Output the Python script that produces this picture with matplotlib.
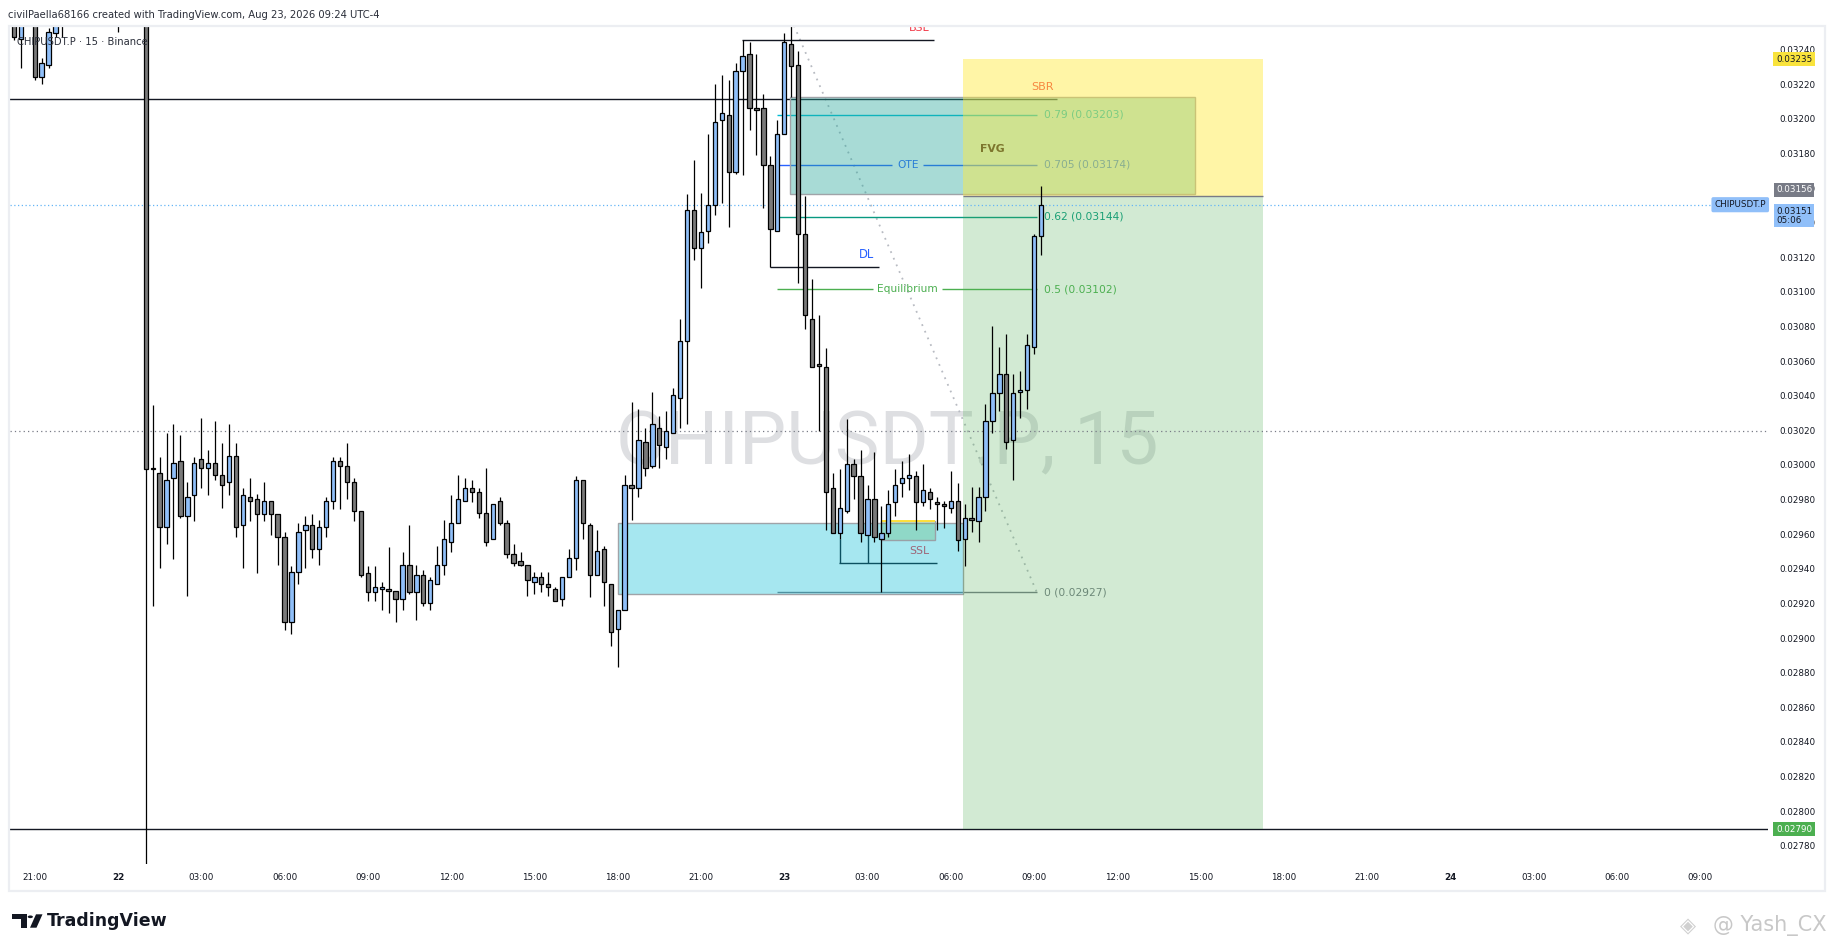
import matplotlib
matplotlib.use("Agg")
import matplotlib.pyplot as plt
from matplotlib.patches import Rectangle, Circle, Polygon
from matplotlib.transforms import blended_transform_factory

# --- Velas de 15 min. Indice 0 = dia 22, 00:00 (una vela = 15 min) ---
first_idx = -15
opens = [
    0.03258, 0.03247, 0.03257, 0.03260, 0.03225, 0.03232, 0.03250, 0.03262, 0.03266, 0.03275,
    0.03270, 0.03281, 0.03276, 0.03283, 0.03274, 0.03268, 0.03272, 0.03278, 0.03271, 0.03266,
    0.02999, 0.02996, 0.02965, 0.02993, 0.03003, 0.02971, 0.02983, 0.03004, 0.02999, 0.03002,
    0.02995, 0.02991, 0.03006, 0.02966, 0.02982, 0.02981, 0.02972, 0.02980, 0.02972, 0.02959,
    0.02910, 0.02939, 0.02963, 0.02966, 0.02952, 0.02965, 0.02980, 0.03003, 0.03000, 0.02991,
    0.02974, 0.02938, 0.02927, 0.02929, 0.02929, 0.02928, 0.02923, 0.02943, 0.02927, 0.02937,
    0.02921, 0.02932, 0.02943, 0.02956, 0.02967, 0.02980, 0.02987, 0.02985, 0.02973, 0.02958,
    0.02980, 0.02967, 0.02949, 0.02945, 0.02943, 0.02933, 0.02936, 0.02932, 0.02929, 0.02923,
    0.02936, 0.02947, 0.02992, 0.02966, 0.02937, 0.02952, 0.02932, 0.02906, 0.02917, 0.02989,
    0.02987, 0.03014, 0.03000, 0.03022, 0.03011, 0.03019, 0.03039, 0.03072, 0.03148, 0.03126,
    0.03136, 0.03151, 0.03200, 0.03203, 0.03170, 0.03228, 0.03238, 0.03207, 0.03207, 0.03174,
    0.03136, 0.03192, 0.03244, 0.03232, 0.03134, 0.03085, 0.03059, 0.03057, 0.02987, 0.02961,
    0.02974, 0.03001, 0.02994, 0.02960, 0.02981, 0.02958, 0.02961, 0.02979, 0.02990, 0.02993,
    0.02994, 0.02979, 0.02985, 0.02979, 0.02978, 0.02976, 0.02980, 0.02958, 0.02970, 0.02968,
    0.02982, 0.03026, 0.03042, 0.03053, 0.03015, 0.03043, 0.03044, 0.03069, 0.03133,
]
highs = [
    0.03262, 0.03262, 0.03265, 0.03264, 0.03236, 0.03253, 0.03268, 0.03270, 0.03282, 0.03284,
    0.03290, 0.03288, 0.03292, 0.03288, 0.03280, 0.03285, 0.03286, 0.03284, 0.03279, 0.03275,
    0.03035, 0.03005, 0.03019, 0.03024, 0.03018, 0.02991, 0.03005, 0.03028, 0.03009, 0.03026,
    0.03013, 0.03024, 0.03013, 0.02987, 0.02993, 0.02984, 0.02991, 0.02980, 0.02972, 0.02962,
    0.02942, 0.02967, 0.02971, 0.02972, 0.02969, 0.02982, 0.03005, 0.03005, 0.03013, 0.02993,
    0.02974, 0.02942, 0.02942, 0.02933, 0.02953, 0.02928, 0.02950, 0.02966, 0.02943, 0.02940,
    0.02936, 0.02954, 0.02969, 0.02983, 0.02995, 0.02993, 0.02992, 0.02987, 0.02999, 0.02978,
    0.02982, 0.02969, 0.02955, 0.02950, 0.02943, 0.02939, 0.02939, 0.02939, 0.02930, 0.02936,
    0.02952, 0.02994, 0.02992, 0.02967, 0.02963, 0.02954, 0.02932, 0.02917, 0.02995, 0.03037,
    0.03033, 0.03022, 0.03043, 0.03029, 0.03032, 0.03045, 0.03085, 0.03157, 0.03177, 0.03158,
    0.03192, 0.03221, 0.03226, 0.03223, 0.03233, 0.03246, 0.03245, 0.03238, 0.03215, 0.03179,
    0.03200, 0.03250, 0.03254, 0.03240, 0.03156, 0.03108, 0.03087, 0.03068, 0.02996, 0.02998,
    0.03027, 0.03004, 0.03009, 0.02989, 0.03008, 0.02977, 0.02986, 0.02998, 0.03003, 0.03007,
    0.02997, 0.03001, 0.02987, 0.02982, 0.02980, 0.02997, 0.02990, 0.02978, 0.02988, 0.02988,
    0.03036, 0.03081, 0.03069, 0.03076, 0.03053, 0.03055, 0.03076, 0.03134, 0.03162,
]
lows = [
    0.03246, 0.03230, 0.03255, 0.03223, 0.03221, 0.03230, 0.03248, 0.03248, 0.03262, 0.03266,
    0.03268, 0.03270, 0.03272, 0.03268, 0.03262, 0.03251, 0.03265, 0.03264, 0.03260, 0.02765,
    0.02919, 0.02941, 0.02955, 0.02946, 0.02970, 0.02925, 0.02968, 0.02987, 0.02983, 0.02992,
    0.02976, 0.02983, 0.02959, 0.02941, 0.02968, 0.02938, 0.02968, 0.02960, 0.02943, 0.02905,
    0.02903, 0.02932, 0.02941, 0.02947, 0.02943, 0.02959, 0.02975, 0.02975, 0.02981, 0.02968,
    0.02936, 0.02922, 0.02922, 0.02917, 0.02915, 0.02910, 0.02917, 0.02926, 0.02911, 0.02919,
    0.02917, 0.02932, 0.02937, 0.02950, 0.02967, 0.02980, 0.02979, 0.02970, 0.02954, 0.02958,
    0.02966, 0.02947, 0.02942, 0.02942, 0.02925, 0.02926, 0.02927, 0.02925, 0.02922, 0.02919,
    0.02936, 0.02940, 0.02958, 0.02924, 0.02937, 0.02919, 0.02896, 0.02884, 0.02917, 0.02969,
    0.02982, 0.02994, 0.02999, 0.02999, 0.03004, 0.03019, 0.03022, 0.03024, 0.03119, 0.03103,
    0.03129, 0.03145, 0.03152, 0.03138, 0.03169, 0.03168, 0.03194, 0.03180, 0.03149, 0.03115,
    0.03163, 0.03192, 0.03213, 0.03106, 0.03079, 0.03057, 0.03020, 0.02963, 0.02961, 0.02958,
    0.02973, 0.02981, 0.02956, 0.02960, 0.02956, 0.02927, 0.02959, 0.02971, 0.02982, 0.02986,
    0.02963, 0.02977, 0.02975, 0.02963, 0.02964, 0.02973, 0.02951, 0.02942, 0.02962, 0.02956,
    0.02974, 0.03019, 0.03032, 0.03010, 0.02992, 0.03028, 0.03033, 0.03065, 0.03122,
]
closes = [
    0.03248, 0.03257, 0.03261, 0.03225, 0.03233, 0.03251, 0.03262, 0.03266, 0.03275, 0.03270,
    0.03281, 0.03276, 0.03283, 0.03274, 0.03268, 0.03272, 0.03278, 0.03271, 0.03266, 0.02998,
    0.02998, 0.02965, 0.02992, 0.03002, 0.02971, 0.02982, 0.03002, 0.02999, 0.03002, 0.02995,
    0.02989, 0.03006, 0.02965, 0.02983, 0.02980, 0.02972, 0.02980, 0.02972, 0.02959, 0.02910,
    0.02939, 0.02962, 0.02966, 0.02952, 0.02965, 0.02980, 0.03003, 0.03000, 0.02991, 0.02974,
    0.02937, 0.02927, 0.02930, 0.02930, 0.02928, 0.02923, 0.02943, 0.02927, 0.02937, 0.02921,
    0.02934, 0.02943, 0.02958, 0.02967, 0.02981, 0.02987, 0.02985, 0.02973, 0.02956, 0.02978,
    0.02967, 0.02949, 0.02944, 0.02943, 0.02934, 0.02936, 0.02932, 0.02930, 0.02922, 0.02936,
    0.02947, 0.02992, 0.02967, 0.02937, 0.02951, 0.02933, 0.02904, 0.02917, 0.02989, 0.02987,
    0.03015, 0.02999, 0.03024, 0.03012, 0.03020, 0.03041, 0.03072, 0.03148, 0.03126, 0.03135,
    0.03151, 0.03199, 0.03204, 0.03170, 0.03228, 0.03237, 0.03207, 0.03206, 0.03174, 0.03137,
    0.03192, 0.03245, 0.03231, 0.03134, 0.03087, 0.03057, 0.03058, 0.02985, 0.02961, 0.02976,
    0.03001, 0.02994, 0.02961, 0.02981, 0.02959, 0.02961, 0.02978, 0.02989, 0.02993, 0.02995,
    0.02979, 0.02986, 0.02981, 0.02978, 0.02977, 0.02980, 0.02957, 0.02970, 0.02969, 0.02982,
    0.03026, 0.03042, 0.03053, 0.03014, 0.03042, 0.03044, 0.03070, 0.03133, 0.03151,
]

# eje de tiempo: una etiqueta cada 3 h (12 velas), desde 21:00 del dia 21
time_labels = ["21:00", "22", "03:00", "06:00", "09:00", "12:00", "15:00", "18:00",
               "21:00", "23", "03:00", "06:00", "09:00", "12:00", "15:00", "18:00",
               "21:00", "24", "03:00", "06:00", "09:00"]
time_first = -12
price_ticks = [round(0.02780 + 0.0002 * k, 5) for k in range(24)]

# retroceso de Fibonacci
fib_levels = [0, 0.5, 0.62, 0.705, 0.79]
fib_prices = [0.02927, 0.03102, 0.03144, 0.03174, 0.03203]
fib_names = {0.5: "Equilibrium", 0.705: "OTE"}
fib_start, fib_end = 95.0, 132.4
fib_top = 0.03277

# zonas y niveles dibujados
last_price = 0.03151
prev_close = 0.03020
range_high_line = 0.03212
target_line = 0.02790
bsl_price = 0.03246
dl_price = 0.03115
ssl_price = 0.02944
fvg_zone = (96.9, 155.2, 0.03157, 0.03213)
demand_zone = (72.05, 121.8, 0.02926, 0.02967)
ssl_zone = (110.0, 117.7, 0.02957, 0.02968)
pos_x = (121.8, 165.0)
pos_entry, pos_stop, pos_target = 0.03156, 0.03235, 0.02790

W, H = 1835, 951


def fx(px):
    return px / W


def fy(py):
    return 1 - py / H


fig = plt.figure(figsize=(W / 100, H / 100), dpi=100)
ax = fig.add_axes([fx(9.5), fy(864.3), fx(1768) - fx(9.5), fy(27) - fy(864.3)])
ax.set_xlim(-15.63, 237.75)
ax.set_ylim(0.027698, 0.032537)
ax.axis("off")

TXT = "#131722"
RED = "#f23645"
BLUE = "#2962ff"

# marca de agua
ax.text(110.9, 0.03013, "CHIPUSDT.P, 15", fontsize=54, family="Roboto",
        color="#dedfe2", ha="center", va="center", zorder=0.5)

# --- Fibonacci ---
ax.plot([fib_start, fib_end], [fib_top, fib_prices[0]], color="#b8bbc2",
        ls=(0, (1, 3)), lw=1.3, zorder=1)
fib_colors = ["#787b86", "#4caf50", "#089981", "#2962ff", "#00bcd4"]
gaps = {"Equilibrium": 5.0, "OTE": 2.2}
mid = 113.8
for lvl, pr, col in zip(fib_levels, fib_prices, fib_colors):
    name = fib_names.get(lvl)
    if name:
        g = gaps[name]
        ax.hlines(pr, fib_start, mid - g, color=col, lw=1, zorder=1)
        ax.hlines(pr, mid + g, fib_end, color=col, lw=1, zorder=1)
        ax.text(mid, pr, name, color=col, fontsize=7.7, ha="center", va="center", zorder=1)
    else:
        ax.hlines(pr, fib_start, fib_end, color=col, lw=1, zorder=1)
    ax.text(133.4, pr, f"{lvl} ({pr:.5f})", color=col, fontsize=7.7,
            ha="left", va="center", zorder=1)

# lineas horizontales
ax.hlines(range_high_line, -16, 135.3, color=TXT, lw=1, zorder=1.5)
ax.axhline(target_line, color=TXT, lw=1, zorder=1.5)
ax.hlines(bsl_price, 89.9, 117.6, color=TXT, lw=1, zorder=1.5)
ax.text(115.4, 0.032514, "BSL", color=RED, fontsize=8, ha="center", va="baseline",
        zorder=1.5, clip_on=True)
ax.hlines(dl_price, 93.9, 109.7, color=TXT, lw=1, zorder=1.5)
ax.text(107.8, 0.03122, "DL", color=BLUE, fontsize=8.3, ha="center", va="center", zorder=1.5)
ax.hlines(ssl_price, 103.9, 118.0, color=TXT, lw=1, zorder=1.5)
ax.vlines([104, 108], [lows[104 - first_idx], lows[108 - first_idx]], ssl_price,
          color=TXT, lw=1, zorder=1.5)
ax.text(115.5, 0.02951, "SSL", color=RED, fontsize=7.8, ha="center", va="center", zorder=1.5)

# zonas (rectangulos)
x0, x1, y0, y1 = demand_zone
ax.add_patch(Rectangle((x0, y0), x1 - x0, y1 - y0, facecolor=(0, 188 / 255, 212 / 255, 0.35),
                       edgecolor="#a0a3a8", lw=1, zorder=2))
x0, x1, y0, y1 = fvg_zone
ax.add_patch(Rectangle((x0, y0), x1 - x0, y1 - y0, facecolor=(38 / 255, 166 / 255, 154 / 255, 0.4),
                       edgecolor="#a0a3a8", lw=1, zorder=2))
ax.text(126.0, 0.03183, "FVG", color=TXT, fontsize=7.8, fontweight="bold",
        ha="center", va="center", zorder=2.6)
x0, x1, y0, y1 = ssl_zone
ax.add_patch(Rectangle((x0, y0), x1 - x0, y1 - y0, facecolor=(76 / 255, 175 / 255, 80 / 255, 0.25),
                       edgecolor="#9aa0a6", lw=1, zorder=2.5))
ax.hlines(y1, x0, x1, color="#ffe03b", lw=1.4, zorder=2.6)

# herramienta de posicion
ax.text(133.2, 0.03219, "SBR", color=RED, fontsize=8, ha="center", va="center", zorder=2.9)
ax.add_patch(Rectangle((pos_x[0], pos_entry), pos_x[1] - pos_x[0], pos_stop - pos_entry,
                       facecolor=(1, 235 / 255, 59 / 255, 0.45), edgecolor="none", zorder=3))
ax.add_patch(Rectangle((pos_x[0], pos_target), pos_x[1] - pos_x[0], pos_entry - pos_target,
                       facecolor=(76 / 255, 175 / 255, 80 / 255, 0.25), edgecolor="none", zorder=3))
ax.hlines(pos_entry, pos_x[0], pos_x[1], color="#787b86", lw=1, zorder=3.1)

# lineas punteadas de precio
ax.axhline(prev_close, color="#787b86", ls=(0, (1, 2.5)), lw=0.9, zorder=3.5)
ax.axhline(last_price, color="#64b5f6", ls=(0, (1, 2)), lw=0.9, zorder=3.5)

# --- velas ---
xs = list(range(first_idx, first_idx + len(opens)))
up_col, down_col = "#90bff9", "#7a7a7a"
ax.vlines(xs, lows, highs, color="black", lw=0.9, zorder=4)
bottoms = [min(o, c) for o, c in zip(opens, closes)]
heights = [abs(c - o) for o, c in zip(opens, closes)]
colors = [up_col if c > o else down_col for o, c in zip(opens, closes)]
ax.bar(xs, heights, bottom=bottoms, width=0.62, color=colors, edgecolor="black",
       linewidth=0.9, zorder=4.1)

# --- eje de precios (derecha) ---
tp = blended_transform_factory(fig.transFigure, ax.transData)
for p in price_ticks:
    ax.text(fx(1779), p, f"{p:.5f}", transform=tp, fontsize=6.3, color=TXT,
            ha="left", va="center", clip_on=False)
ax.text(fx(1776), pos_stop, f"{pos_stop:.5f}", transform=tp, fontsize=6.3, color=TXT,
        ha="left", va="center", clip_on=False, zorder=6,
        bbox=dict(boxstyle="square,pad=0.3", fc="#f9e33c", ec="none"))
ax.text(fx(1776), 0.031595, f"{pos_entry:.5f}", transform=tp, fontsize=6.3, color="white",
        ha="left", va="center", clip_on=False, zorder=6,
        bbox=dict(boxstyle="square,pad=0.25", fc="#787b86", ec="none"))
ax.text(fx(1776), 0.031445, f"{last_price:.5f}\n05:06", transform=tp, fontsize=6.3, color=TXT,
        ha="left", va="center", clip_on=False, zorder=6, linespacing=1.1,
        bbox=dict(boxstyle="square,pad=0.25", fc="#90bff9", ec="none"))
ax.text(fx(1766), last_price, "CHIPUSDT.P", transform=tp, fontsize=6.3, color=TXT,
        ha="right", va="center", clip_on=False, zorder=6,
        bbox=dict(boxstyle="round,pad=0.35,rounding_size=0.2", fc="#90bff9", ec="none"))
ax.text(fx(1776), target_line, f"{target_line:.5f}", transform=tp, fontsize=6.3, color="white",
        ha="left", va="center", clip_on=False, zorder=6,
        bbox=dict(boxstyle="square,pad=0.3", fc="#4caf50", ec="none"))

# --- eje de tiempo ---
tt = blended_transform_factory(ax.transData, fig.transFigure)
for k, lab in enumerate(time_labels):
    ax.text(time_first + 12 * k, fy(877), lab, transform=tt, fontsize=6.3, color=TXT,
            ha="center", va="center", clip_on=False,
            fontweight="bold" if len(lab) == 2 else "normal")

# marco del grafico
fig.patches.append(Rectangle((fx(9.3), fy(890.7)), fx(1825) - fx(9.3), fy(26) - fy(890.7),
                             transform=fig.transFigure, fill=False, ec="#eceef2", lw=1.6))

# textos de cabecera
fig.text(fx(8), fy(15), "civilPaella68166 created with TradingView.com, Aug 23, 2026 09:24 UTC-4",
         fontsize=7.2, color="#2a2e39", ha="left", va="center")
fig.text(fx(17), fy(42), "CHIPUSDT.P \u00b7 15 \u00b7 Binance", fontsize=7.2, color="#2a2e39",
         ha="left", va="center", zorder=10)

# logo TradingView
fig.patches.append(Polygon([(fx(12), fy(914.3)), (fx(26.5), fy(914.3)), (fx(26.5), fy(927.7)),
                            (fx(20.5), fy(927.7)), (fx(20.5), fy(919.3)), (fx(12), fy(919.3))],
                           closed=True, transform=fig.transFigure, fc="#131722", ec="none"))
fig.patches.append(Circle((fx(30.3), fy(916.8)), 2.6 / W, transform=fig.transFigure,
                          fc="#131722", ec="none"))
fig.patches.append(Polygon([(fx(36), fy(914.3)), (fx(42.5), fy(914.3)), (fx(36.5), fy(927.7)),
                            (fx(30), fy(927.7))], closed=True, transform=fig.transFigure,
                           fc="#131722", ec="none"))
fig.text(fx(47), fy(921), "TradingView", fontsize=12.5, fontweight="bold", color="#131722",
         ha="left", va="center")

# firma abajo a la derecha
fig.text(fx(1826), fy(926), "@ Yash_CX", fontsize=15, color="#c8c8c8", ha="right", va="center")
fig.text(fx(1688), fy(926), "\u25c8", fontsize=15, color="#d0d0d0", ha="center", va="center")

fig.savefig("out.png", dpi=100)
